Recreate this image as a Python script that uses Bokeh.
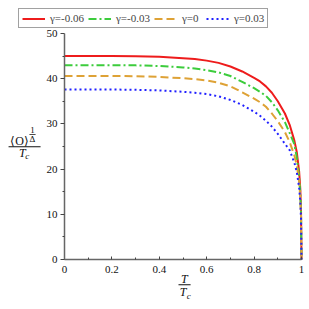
from bokeh.plotting import figure
from bokeh.models import (Range1d, FixedTicker, CustomJSTickFormatter, Legend, LegendItem,
                          Label, PolyAnnotation)
from bokeh.embed import file_html
from bokeh.resources import INLINE

# ---- data ----
T = [0, 0.1, 0.2, 0.3, 0.4, 0.5, 0.55, 0.6, 0.65, 0.7, 0.75, 0.8, 0.825, 0.85, 0.875,
     0.9, 0.93, 0.95, 0.97, 0.98, 0.99, 0.995, 0.998, 1.0]
red_m006 = [45.0, 45.0, 45.0, 44.95, 44.85, 44.55, 44.35, 44.0, 43.5, 42.7, 41.6, 40.2,
            39.4, 38.3, 36.9, 35.0, 32.3, 29.8, 26.3, 23.8, 19.5, 15.5, 11.0, 0.0]
green_m003 = [43.0, 43.0, 43.0, 42.95, 42.8, 42.5, 42.25, 41.9, 41.4, 40.6, 39.3, 37.9,
              37.1, 36.2, 34.8, 33.0, 30.4, 28.0, 25.5, 22.6, 18.3, 14.5, 10.3, 0.0]
orange_0 = [40.6, 40.6, 40.6, 40.55, 40.4, 40.1, 39.9, 39.6, 39.1, 38.3, 37.0, 35.6,
            34.8, 33.8, 32.3, 30.6, 28.2, 26.0, 23.0, 20.9, 17.2, 13.6, 9.7, 0.0]
blue_003 = [37.6, 37.6, 37.6, 37.55, 37.4, 37.1, 36.9, 36.6, 36.1, 35.3, 34.2, 32.7,
            31.8, 30.7, 29.4, 27.8, 25.6, 24.2, 21.4, 19.4, 16.0, 12.7, 9.0, 0.0]
labels = ["γ=-0.06", "γ=-0.03", "γ=0", "γ=0.03"]
x_ticks = [0, 0.2, 0.4, 0.6, 0.8, 1]
x_minor = [0.1, 0.3, 0.5, 0.7, 0.9]
y_ticks = [0, 10, 20, 30, 40, 50]
y_minor = [5, 15, 25, 35, 45]

FONT = "Liberation Serif"

# frame covers the whole canvas; axes are pinned at x=0 / y=0 with fixed_location
W, H = 309, 309
PX_L, PX_R, PX_T, PX_B = 64, 301, 33, 259          # pixel positions of x=0, x=1, y=50, y=0
sx = (PX_R - PX_L) / 1.0
sy = (PX_B - PX_T) / 50.0
x_range = Range1d(-PX_L / sx, 1 + (W - PX_R) / sx)
y_range = Range1d(-(H - PX_B) / sy, 50 + PX_T / sy)

p = figure(width=W, height=H, output_backend="svg", toolbar_location=None,
           x_range=x_range, y_range=y_range, min_border=0)
p.outline_line_color = None
p.grid.visible = False
p.background_fill_color = "white"
p.border_fill_color = "white"

series = [
    (red_m006, "#ee1c1c", "solid", 2.0),
    (green_m003, "#3ccc3c", "8 3 2 3", 2.0),
    (orange_0, "#dea236", "8 4", 2.0),
    (blue_003, "#2020ff", "2 3", 2.0),
]
items = []
for (vals, col, dash, w), lab in zip(series, labels):
    r = p.line(T, vals, line_color=col, line_dash=dash, line_width=w)
    items.append(LegendItem(label=lab, renderers=[r]))

legend = Legend(items=items, orientation="horizontal", location=(18, H - 28),
                glyph_width=23, glyph_height=11, label_standoff=5, spacing=4, padding=3,
                margin=0, label_text_font=FONT, label_text_font_size="11px",
                label_height=11, border_line_color="#444444", border_line_width=1,
                background_fill_color="white", background_fill_alpha=1.0)
p.add_layout(legend, "center")

fmt = CustomJSTickFormatter(code="return tick.toString();")
p.xaxis.ticker = FixedTicker(ticks=x_ticks, minor_ticks=x_minor)
p.yaxis.ticker = FixedTicker(ticks=y_ticks, minor_ticks=y_minor)
p.xaxis.formatter = fmt
p.yaxis.formatter = fmt
p.xaxis.fixed_location = 0
p.yaxis.fixed_location = 0
p.xaxis.bounds = (0, 1)
p.yaxis.bounds = (0, 50)
for ax in (p.xaxis, p.yaxis):
    ax.axis_line_color = "#666666"
    ax.axis_line_width = 1.5
    ax.major_tick_line_color = "#444444"
    ax.minor_tick_line_color = "#444444"
    ax.major_label_text_font = FONT
    ax.major_label_text_font_size = "11px"
    ax.major_label_text_color = "#111111"
p.xaxis.major_tick_in = 3
p.xaxis.major_tick_out = 0
p.xaxis.minor_tick_in = 2
p.xaxis.minor_tick_out = 0
p.xaxis.major_label_standoff = 6
p.yaxis.major_tick_in = 0
p.yaxis.major_tick_out = 4
p.yaxis.minor_tick_in = 0
p.yaxis.minor_tick_out = 2
p.yaxis.major_label_standoff = 3


def lab(text, x, y, size="12px", style="normal"):
    p.add_layout(Label(x=x, y=y, text=text,
                       text_font=FONT, text_font_size=size, text_font_style=style,
                       text_align="center", text_baseline="middle", text_color="#111111"))


def bar(x0, x1, y, h=0.22):
    p.add_layout(PolyAnnotation(xs=[x0, x1, x1, x0], ys=[y - h / 2, y - h / 2, y + h / 2, y + h / 2],
                                fill_color="#111111", fill_alpha=1.0, line_color=None))


# y-axis label: <O>^(1/Δ) / T_c
lab("⟨O⟩", -0.19, 26.15)
lab("1", -0.135, 28.65, size="9px")
bar(-0.148, -0.122, 27.7, 0.18)
lab("Δ", -0.135, 26.75, size="9px")
bar(-0.236, -0.101, 24.95)
lab("T", -0.178, 23.65, style="italic")
lab("c", -0.157, 22.95, size="9px", style="italic")

# x-axis label: T / T_c
lab("T", 0.506, -4.4, style="italic")
bar(0.481, 0.532, -5.6)
lab("T", 0.500, -7.1, style="italic")
lab("c", 0.524, -8.1, size="9px", style="italic")

open("out.html", "w").write(file_html(p, INLINE))
